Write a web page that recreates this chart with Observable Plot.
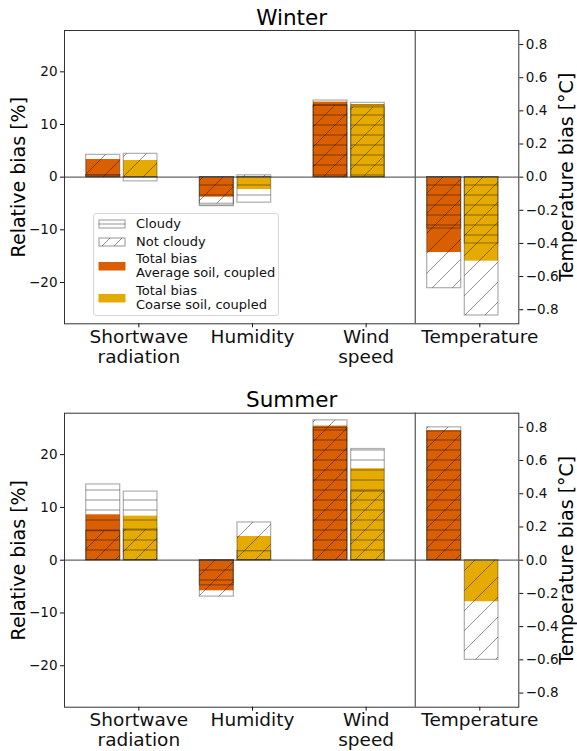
<!DOCTYPE html>
<html><head><meta charset="utf-8">
<script src="https://cdn.jsdelivr.net/npm/d3@7"></script>
<script src="https://cdn.jsdelivr.net/npm/@observablehq/plot@0.6"></script>
<style>
body{margin:0;background:#fff;font-family:"DejaVu Sans",sans-serif;}
#wrap{position:relative;width:577px;height:751px;overflow:hidden;}
#winter,#summer{position:absolute;left:0;}
#winter{top:0;} #summer{top:375px;}
#legend{position:absolute;left:93px;top:213px;width:186px;height:103px;box-sizing:border-box;
  border:1px solid #d6d6d6;border-radius:3px;background:rgba(255,255,255,0.85);
  font:13px/14px "DejaVu Sans",sans-serif;color:#111;padding:3px 0 0 4px;}
.lrow{display:flex;align-items:center;margin-bottom:3.5px;}
.lrow svg{flex:none;margin-right:10px;}
</style></head>
<body><div id="wrap"><div id="winter"></div><div id="summer"></div><div id="legend"></div></div>
<script>
// ---- data ----
const categories = ["Shortwave\nradiation", "Humidity", "Wind\nspeed", "Temperature"];
const soils = ["Average soil, coupled", "Coarse soil, coupled"];
const soilColors = ["#d95f02", "#e6ab02"];
const legendLabels = ["Cloudy", "Not cloudy", "Total bias\nAverage soil, coupled", "Total bias\nCoarse soil, coupled"];
// values per category: [Shortwave %, Humidity %, Wind %, Temperature °C]
const winterTotalAvg        = [3.35, -3.8, 14.25, -0.455];
const winterTotalCoarse     = [3.16, -2.35, 13.8, -0.507];
const winterCloudyAvg       = [0.38, -5.5, 14.55, -0.31];
const winterCloudyCoarse    = [-0.8, -4.85, 14.1, -0.40];
const winterNotCloudyAvg    = [4.23, -5.05, 13.6, -0.67];
const winterNotCloudyCoarse = [4.42, 0.35, 13.25, -0.835];

const summerTotalAvg        = [8.6, -5.8, 25.4, 0.78];
const summerTotalCoarse     = [8.35, 4.5, 17.33, -0.25];
const summerCloudyAvg       = [14.35, -4.75, 25.05, 0.775];
const summerCloudyCoarse    = [13.0, 1.7, 21.06, 0.0];
const summerNotCloudyAvg    = [5.5, -6.9, 26.5, 0.80];
const summerNotCloudyCoarse = [5.8, 7.15, 13.0, -0.6];

const relTicks = [-20, -10, 0, 10, 20];
const tempTicks = [-0.8, -0.6, -0.4, -0.2, 0.0, 0.2, 0.4, 0.6, 0.8];
const relMax = 27.85, tempMax = 0.885;
const tempIndex = 3;
const xDomain = [-0.654, 3.343];
const dividerX = 2.432;
const barOffsets = [[-0.463, -0.164], [-0.132, 0.164]];

// ---- build ----
const k = relMax / tempMax;
const conv = (i, v) => i === tempIndex ? v * k : v;
function buildRows(totals, cloudys, notCloudys) {
  const rows = [];
  for (let s = 0; s < 2; s++) for (let i = 0; i < categories.length; i++) {
    rows.push({i, s, total: conv(i, totals[s][i]), cloudy: conv(i, cloudys[s][i]), notCloudy: conv(i, notCloudys[s][i])});
  }
  return rows;
}
const fmtRel = d => (d < 0 ? "\u2212" : "") + Math.abs(d);
const fmtTemp = v => { const r = Math.round(v * 10) / 10; return (r < 0 ? "\u2212" : "") + Math.abs(r).toFixed(1); };

function addPatterns(svg, id) {
  const defs = d3.select(svg).insert("defs", ":first-child");
  const ph = defs.append("pattern").attr("id", "hh-" + id).attr("patternUnits", "userSpaceOnUse")
    .attr("width", 10).attr("height", 10);
  ph.append("path").attr("d", "M0,5H10").attr("stroke", "rgba(0,0,0,0.42)").attr("stroke-width", 1).attr("fill", "none");
  const pd = defs.append("pattern").attr("id", "dd-" + id).attr("patternUnits", "userSpaceOnUse")
    .attr("width", 20).attr("height", 20);
  pd.append("path").attr("d", "M-5,5L5,-5M0,20L20,0M15,25L25,15").attr("stroke", "rgba(0,0,0,0.42)").attr("stroke-width", 1).attr("fill", "none");
}

function panel(title, data, o) {
  const x1 = d => d.i + barOffsets[d.s][0];
  const x2 = d => d.i + barOffsets[d.s][1];
  const svg = Plot.plot({
    width: 577, height: o.height, marginTop: o.marginTop, marginBottom: o.marginBottom,
    marginLeft: 64, marginRight: 58.7,
    style: {fontFamily: "DejaVu Sans", fontSize: "13.5px", color: "#111", background: "white"},
    x: {domain: xDomain, axis: null},
    y: {domain: [-relMax, relMax], axis: null},
    marks: [
      Plot.rect(data, {x1, x2, y1: () => 0, y2: "total", fill: d => soilColors[d.s]}),
      Plot.ruleY([0], {stroke: "#666", strokeWidth: 1.3}),
      Plot.rect(data, {x1, x2, y1: () => 0, y2: "cloudy", fill: `url(#hh-${o.id})`, stroke: "black", strokeOpacity: 0.3, strokeWidth: 1.3}),
      Plot.rect(data, {x1, x2, y1: () => 0, y2: "notCloudy", fill: `url(#dd-${o.id})`, stroke: "black", strokeOpacity: 0.3, strokeWidth: 1.3}),
      Plot.ruleX([dividerX], {stroke: "#555", strokeWidth: 1.2}),
      Plot.frame({stroke: "#333", strokeWidth: 1}),
      Plot.axisY(relTicks, {anchor: "left", tickSize: 4, tickPadding: 3, fontSize: 13.5, tickFormat: fmtRel, label: null}),
      Plot.axisY(tempTicks.map(t => t * k), {anchor: "right", tickSize: 4, tickPadding: 3, fontSize: 13.5, tickFormat: d => fmtTemp(d / k), label: null}),
      Plot.axisX([0, 1, 2, 3], {anchor: "bottom", tickSize: 4, tickPadding: 1, fontSize: 18.5, lineHeight: 1.08, tickFormat: i => categories[i], label: null}),
      Plot.text([title], {text: d => d, frameAnchor: "top", lineAnchor: "middle", textAnchor: "middle", dy: o.titleDy, fontSize: 21.5, fill: "black"}),
      Plot.text(["Relative bias [%]"], {text: d => d, frameAnchor: "left", textAnchor: "middle", lineAnchor: "middle", dx: -46, rotate: -90, fontSize: 19, fill: "black"}),
      Plot.text(["Temperature bias [\u00b0C]"], {text: d => d, frameAnchor: "right", textAnchor: "middle", lineAnchor: "middle", dx: 48, rotate: -90, fontSize: 19, fill: "black"})
    ]
  });
  addPatterns(svg, o.id);
  return svg;
}

const winterRows = buildRows([winterTotalAvg, winterTotalCoarse], [winterCloudyAvg, winterCloudyCoarse], [winterNotCloudyAvg, winterNotCloudyCoarse]);
const summerRows = buildRows([summerTotalAvg, summerTotalCoarse], [summerCloudyAvg, summerCloudyCoarse], [summerNotCloudyAvg, summerNotCloudyCoarse]);

document.getElementById("winter").appendChild(panel("Winter", winterRows, {id: "w", height: 375, marginTop: 30, marginBottom: 51.7, titleDy: -12}));
document.getElementById("summer").appendChild(panel("Summer", summerRows, {id: "s", height: 376, marginTop: 37.7, marginBottom: 44.3, titleDy: -12.7}));

// ---- legend ----
const legend = document.getElementById("legend");
const NS = "http://www.w3.org/2000/svg";
legendLabels.forEach((lab, j) => {
  const row = document.createElement("div");
  row.className = "lrow";
  const sv = document.createElementNS(NS, "svg");
  sv.setAttribute("width", 28); sv.setAttribute("height", 10);
  let inner;
  if (j === 0) inner = '<rect x="1" y="1" width="26" height="8" fill="white" stroke="rgba(0,0,0,0.35)" stroke-width="1.2"/><path d="M1,5H27" stroke="rgba(0,0,0,0.42)"/>';
  else if (j === 1) inner = '<rect x="1" y="1" width="26" height="8" fill="white" stroke="rgba(0,0,0,0.35)" stroke-width="1.2"/><path d="M4,9L12,1M16,9L24,1" stroke="rgba(0,0,0,0.42)"/>';
  else inner = `<rect x="0.5" y="1" width="27" height="8.5" fill="${soilColors[j - 2]}"/>`;
  sv.innerHTML = inner;
  row.appendChild(sv);
  const t = document.createElement("div");
  t.style.whiteSpace = "pre";
  t.textContent = lab;
  row.appendChild(t);
  legend.appendChild(row);
});
</script>
</body></html>
